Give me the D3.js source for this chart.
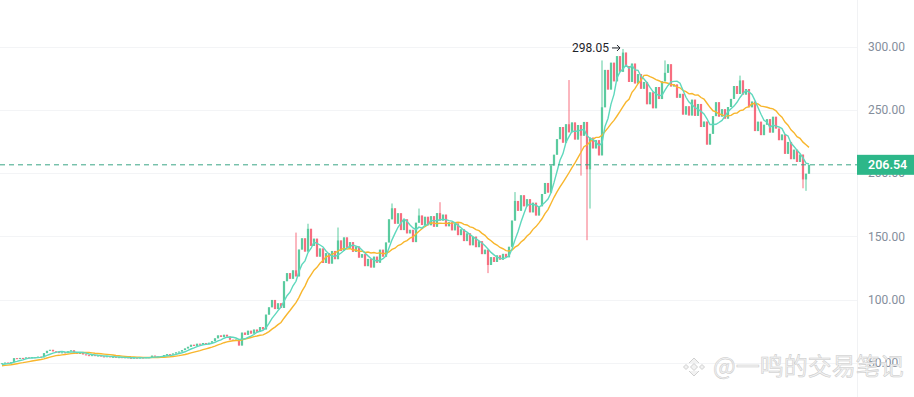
<!DOCTYPE html>
<meta charset="utf-8">
<style>
body { margin: 0; background: #fff; }
svg { display: block; font-family: Roboto, "Noto Sans", sans-serif; }
</style>
<body>
<script src="https://cdn.jsdelivr.net/npm/d3@7"></script>
<script>

var width = 914, height = 397, plotRight = 857;

// closes before the visible window, only used to seed the moving averages
var priorCloses = [46.2, 46.8, 46.5, 47.0, 47.4, 46.9, 47.3, 47.8, 47.5, 48.0, 48.3, 47.9, 48.6, 49.0, 49.4];

var closes = [
  49.8, 50.3, 49.9, 50.6, 53.8, 53.2, 54.0, 53.5, 54.4, 54.0,
  54.6, 54.2, 55.0, 54.5, 57.8, 59.6, 60.4, 59.2, 58.6, 58.0,
  58.4, 57.8, 59.2, 60.0, 58.5, 57.4, 57.9, 56.8, 56.2, 55.8,
  56.2, 55.6, 55.9, 55.2, 54.8, 55.3, 54.5, 54.9, 54.2, 54.6,
  54.0, 54.5, 54.1, 53.7, 54.2, 53.8, 54.3, 54.0, 54.6, 54.2,
  55.8, 55.2, 54.8, 55.4, 56.3, 57.0, 56.6, 57.5, 58.4, 59.0,
  60.2, 61.5, 62.8, 64.4, 63.5, 65.2, 64.6, 65.8, 64.9, 66.0,
  67.2, 69.5, 71.8, 70.6, 72.3, 70.9, 68.4, 67.8, 68.5, 63.8,
  74.0, 72.2, 75.5, 73.2, 76.4, 74.6, 78.4, 76.5, 88.2, 94.0,
  99.8, 92.6, 97.2, 93.5, 114.6, 121.0, 116.5, 123.2, 118.4, 139.6,
  148.5, 138.0, 156.0, 142.5, 148.2, 134.0, 140.5, 129.0, 136.8, 128.5,
  138.5, 132.0, 146.8, 138.5, 149.2, 141.0, 145.5, 137.8, 142.0, 133.2,
  136.0, 126.5, 132.2, 125.4, 134.0, 129.2, 139.5, 134.0, 145.2, 163.5,
  172.2, 160.0, 168.3, 155.0, 163.5, 152.4, 155.2, 145.5, 160.8, 166.5,
  159.0, 165.5, 158.8, 166.0, 157.6, 168.4, 162.5, 167.2, 158.0, 161.2,
  154.8, 160.2, 151.0, 155.6, 146.3, 152.4, 143.0, 149.8, 141.5, 146.2,
  136.0, 139.5, 127.4, 133.6, 129.8, 135.0, 131.6, 136.2, 133.5, 141.8,
  162.5, 178.0, 170.2, 182.5, 173.8, 179.4, 169.0, 176.6, 166.5, 173.8,
  183.5, 192.2, 184.6, 206.0, 214.5, 226.8, 236.4, 224.0, 238.6, 232.2,
  240.0, 226.5, 238.0, 229.5, 240.4, 203.0, 228.0, 219.5, 226.0, 214.0,
  252.0, 281.5, 266.0, 287.2, 272.5, 292.4, 280.0, 295.2, 284.5, 272.0,
  286.5, 270.8, 278.2, 266.6, 272.0, 254.4, 263.8, 251.2, 268.0, 258.5,
  272.5, 279.2, 286.0, 268.4, 270.0, 259.5, 262.6, 246.2, 252.8, 245.5,
  258.0, 245.2, 254.6, 236.4, 240.7, 222.5, 231.0, 245.0, 256.0, 244.6,
  250.5, 243.0, 252.2, 258.6, 268.8, 262.5, 273.2, 262.0, 266.4, 252.0,
  256.5, 233.2, 240.6, 230.0, 238.2, 242.6, 232.0, 244.5, 235.2, 226.0,
  230.5, 215.2, 224.6, 211.0, 218.5, 208.8, 214.6, 195.0, 199.5, 206.54
];

// notable wicks: [candle index, high, low]
var wicks = [
  [98, 153, null], [102, 160, null], [112, 157, null], [130, 176, null],
  [139, 172, null], [146, 177, null], [162, null, 121], [171, 185, null],
  [189, 273.5, null], [193, null, 198], [195, 240, 147], [196, null, 172],
  [200, 289, null], [207, 298.05, null], [221, 289, null], [246, 277, null],
  [267, null, 188], [268, null, 186]
];

var yTicks = [50, 100, 150, 200, 250, 300];
var maFast = 6, maSlow = 15;
var lastPrice = 206.54;
var watermark = "@一鸣的交易笔记";

var upColor = "#2ebd85", downColor = "#f6465d";

var svg = d3.select("body").append("svg")
    .attr("width", width)
    .attr("height", height);

var x = d3.scaleLinear().domain([0, closes.length - 1]).range([2, 809]);
var y = d3.scaleLinear().domain([50, 300]).range([363, 46.5]);

// gridlines + axis separator
svg.append("g").selectAll("line")
  .data(yTicks)
  .enter().append("line")
  .attr("x1", 0).attr("x2", plotRight)
  .attr("y1", function(d) { return Math.round(y(d)) + 0.5; })
  .attr("y2", function(d) { return Math.round(y(d)) + 0.5; })
  .attr("stroke", "#f3f4f6");

svg.append("line")
  .attr("x1", plotRight + 0.5).attr("x2", plotRight + 0.5)
  .attr("y1", 0).attr("y2", height)
  .attr("stroke", "#f1f2f4");

// candles
var candles = closes.map(function(c, i) {
  var o = i ? closes[i - 1] : priorCloses[priorCloses.length - 1];
  return {i: i, o: o, c: c, h: Math.max(o, c), l: Math.min(o, c)};
});
wicks.forEach(function(w) {
  if (w[1] != null) candles[w[0]].h = w[1];
  if (w[2] != null) candles[w[0]].l = w[2];
});

var cg = svg.append("g").selectAll("g")
  .data(candles)
  .enter().append("g")
  .attr("opacity", 0.78)
  .attr("fill", function(d) { return d.c >= d.o ? upColor : downColor; })
  .attr("stroke", function(d) { return d.c >= d.o ? upColor : downColor; });

cg.append("line")
  .attr("x1", function(d) { return x(d.i); })
  .attr("x2", function(d) { return x(d.i); })
  .attr("y1", function(d) { return y(d.h); })
  .attr("y2", function(d) { return y(d.l); })
  .attr("stroke-width", 1);

cg.append("rect")
  .attr("stroke", "none")
  .attr("x", function(d) { return x(d.i) - 1.1; })
  .attr("width", 2.2)
  .attr("y", function(d) { return y(Math.max(d.o, d.c)); })
  .attr("height", function(d) { return Math.max(1, Math.abs(y(d.o) - y(d.c))); });

// moving averages
var all = priorCloses.concat(closes);
function movingAvg(n) {
  var p = priorCloses.length;
  return closes.map(function(c, i) {
    var s = all.slice(Math.max(0, i + p - n + 1), i + p + 1);
    return {i: i, v: d3.mean(s)};
  });
}

var line = d3.line()
  .x(function(d) { return x(d.i); })
  .y(function(d) { return y(d.v); });

svg.append("path")
  .datum(movingAvg(maSlow))
  .attr("d", line)
  .attr("fill", "none")
  .attr("stroke", "#f8b62d")
  .attr("stroke-width", 1.4);

svg.append("path")
  .datum(movingAvg(maFast))
  .attr("d", line)
  .attr("fill", "none")
  .attr("stroke", "#5fd8bd")
  .attr("stroke-width", 1.4);

// last price dashed line
svg.append("line")
  .attr("x1", 0).attr("x2", plotRight)
  .attr("y1", y(lastPrice)).attr("y2", y(lastPrice))
  .attr("stroke", "#3aa585")
  .attr("stroke-dasharray", "5,4");

// right axis
var axis = svg.append("g")
  .attr("transform", "translate(868,0)")
  .call(d3.axisRight(y).tickValues(yTicks).tickFormat(d3.format(".2f")).tickSize(0).tickPadding(0));
axis.select(".domain").remove();
axis.selectAll("text")
  .attr("fill", "#848e9c")
  .style("font-size", "12px")
  .style("font-family", "Roboto, sans-serif");

// price tag
svg.append("rect")
  .attr("x", plotRight)
  .attr("y", y(lastPrice) - 10)
  .attr("width", width - plotRight)
  .attr("height", 20)
  .attr("fill", "#2db789");
svg.append("text")
  .attr("x", 868)
  .attr("y", y(lastPrice))
  .attr("dy", "0.35em")
  .attr("fill", "#fff")
  .style("font-size", "12.5px")
  .style("font-weight", 600)
  .text(d3.format(".2f")(lastPrice));

// max annotation
var hi = candles.reduce(function(a, b) { return b.h > a.h ? b : a; });
svg.append("text")
  .attr("x", x(hi.i) - 14)
  .attr("y", y(hi.h) - 1)
  .attr("dy", "0.35em")
  .attr("text-anchor", "end")
  .attr("fill", "#1e2329")
  .style("font-size", "12px")
  .text(d3.format(".2f")(hi.h));
svg.append("path")
  .attr("d", "M" + (x(hi.i) - 11) + "," + (y(hi.h) - 1) + "h8 m-3,-3 l3,3 l-3,3")
  .attr("fill", "none")
  .attr("stroke", "#1e2329")
  .attr("stroke-width", 1);

// watermark
var wm = svg.append("g").attr("transform", "translate(694,367)");
wm.append("path")
  .attr("d", "M0,-3.5L3.5,0L0,3.5L-3.5,0Z M-8,-2.5L-5.5,0L-8,2.5L-10.5,0Z M8,-2.5L10.5,0L8,2.5L5.5,0Z M-5,-4L0,-9L5,-4 M-5,4L0,9L5,4")
  .attr("fill", "#f2f2f2")
  .attr("stroke", "#d0d0d0")
  .attr("stroke-width", 1)
  .attr("stroke-linejoin", "round");
svg.append("text")
  .attr("x", 713)
  .attr("y", 375)
  .attr("fill", "#f3f3f3")
  .attr("stroke", "#c9c9c9")
  .attr("stroke-width", 0.5)
  .style("font-family", "'Noto Sans CJK SC', sans-serif")
  .style("font-size", "24px")
  .text(watermark);

</script>
</body>
